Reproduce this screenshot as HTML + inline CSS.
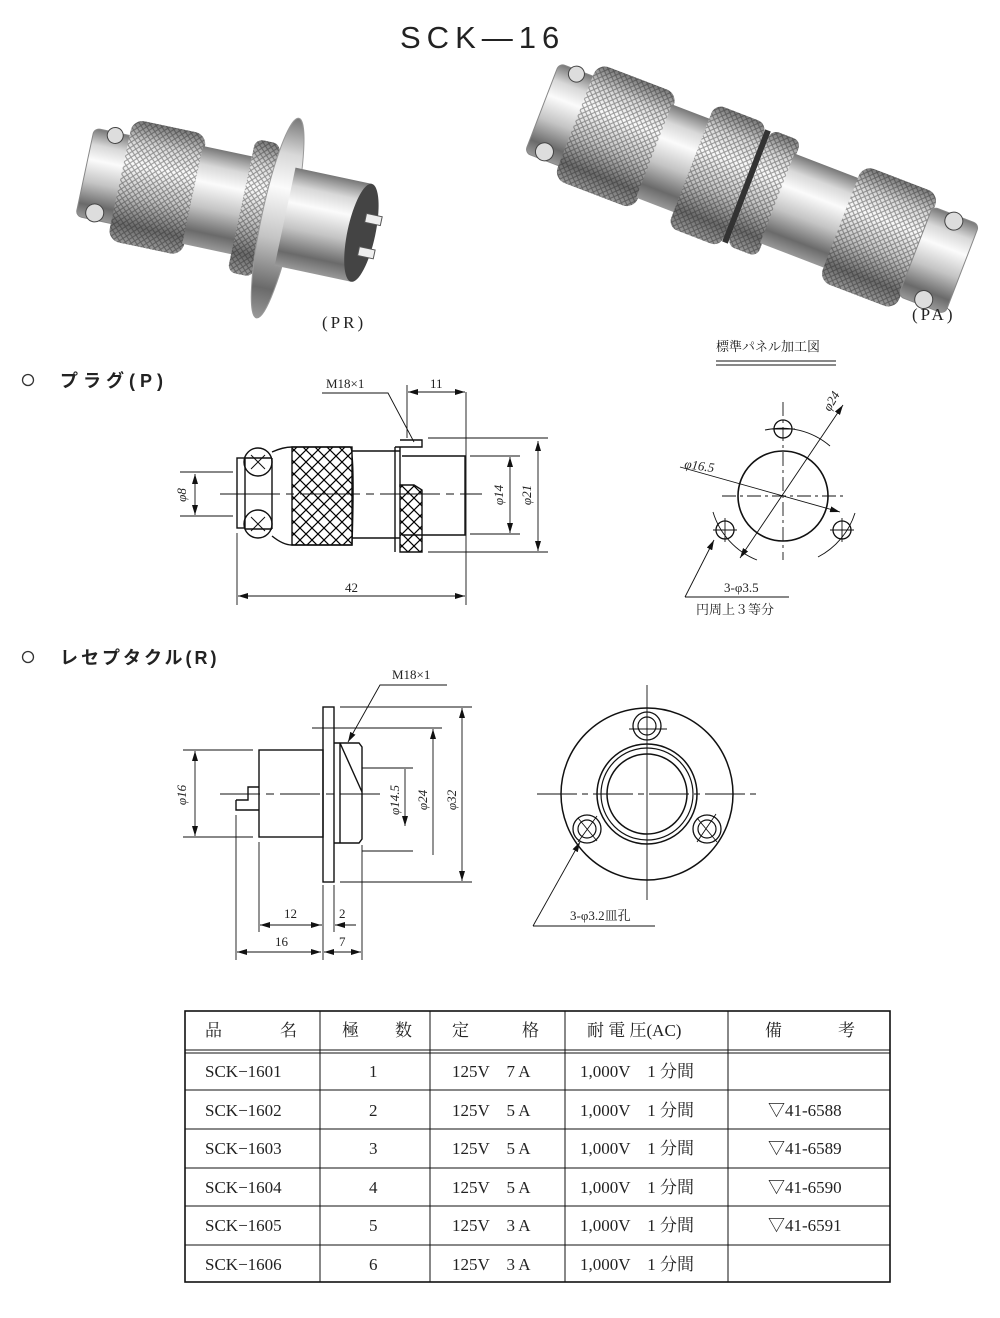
<!DOCTYPE html>
<html><head><meta charset="utf-8"><style>
html,body{margin:0;padding:0;background:#fff}
svg{display:block}
text{font-family:"Liberation Serif","Noto Serif CJK SC","Noto Sans CJK JP",serif;fill:#222}
.s{font-family:"Liberation Sans","Noto Sans CJK JP",sans-serif}
</style></head><body>
<svg width="1000" height="1318" viewBox="0 0 1000 1318" xmlns="http://www.w3.org/2000/svg">
<defs>
<linearGradient id="met" x1="0" y1="0" x2="0" y2="1">
<stop offset="0" stop-color="#777"/><stop offset="0.18" stop-color="#d8d8d8"/><stop offset="0.35" stop-color="#fbfbfb"/><stop offset="0.6" stop-color="#c4c4c4"/><stop offset="0.85" stop-color="#6a6a6a"/><stop offset="1" stop-color="#999"/>
</linearGradient>
<pattern id="kn" width="6" height="6" patternUnits="userSpaceOnUse">
<path d="M0 0L6 6M6 0L0 6" stroke="#222" stroke-width="1" opacity="0.45"/>
</pattern>
<pattern id="hx" width="12" height="12" patternUnits="userSpaceOnUse">
<path d="M0 0L12 12M12 0L0 12" stroke="#000" stroke-width="1.2"/>
</pattern>
<marker id="a" viewBox="0 0 10 6" refX="10" refY="3" markerWidth="10" markerHeight="6" orient="auto-start-reverse" markerUnits="userSpaceOnUse"><path d="M0 0L10 3L0 6z" fill="#111"/></marker>
</defs>

<text x="400" y="48" class="s" font-size="31" letter-spacing="6">SCK—16</text>

<!-- PR photo -->
<g transform="translate(85,172) rotate(12)">
<rect x="0" y="-45" width="42" height="90" rx="6" fill="url(#met)" stroke="#888"/>
<circle cx="22" cy="-42" r="8" fill="#ddd" stroke="#444"/><circle cx="18" cy="38" r="9" fill="#ddd" stroke="#444"/>
<rect x="36" y="-62" width="76" height="124" rx="12" fill="url(#met)"/><rect x="36" y="-62" width="76" height="124" rx="12" fill="url(#kn)"/>
<rect x="110" y="-50" width="52" height="100" fill="url(#met)"/>
<rect x="160" y="-68" width="26" height="136" rx="8" fill="url(#met)"/><rect x="160" y="-68" width="26" height="136" rx="8" fill="url(#kn)"/>
<ellipse cx="198" cy="5" rx="16" ry="102" fill="url(#met)" stroke="#999"/>
<rect x="205" y="-48" width="78" height="100" fill="url(#met)"/>
<ellipse cx="283" cy="2" rx="14" ry="50" fill="#444"/>
<rect x="284" y="-18" width="16" height="9" fill="#eee" stroke="#555"/><rect x="284" y="16" width="16" height="9" fill="#eee" stroke="#555"/>
</g>
<text x="322" y="328" font-size="17" letter-spacing="3">(PR)</text>

<!-- PA photo -->
<g transform="translate(542,108) rotate(21)">
<rect x="0" y="-48" width="42" height="96" rx="6" fill="url(#met)" stroke="#888"/>
<circle cx="20" cy="-44" r="8" fill="#ddd" stroke="#444"/><circle cx="18" cy="40" r="9" fill="#ddd" stroke="#444"/>
<rect x="36" y="-62" width="86" height="124" rx="12" fill="url(#met)"/><rect x="36" y="-62" width="86" height="124" rx="12" fill="url(#kn)"/>
<rect x="120" y="-50" width="42" height="100" fill="url(#met)"/>
<rect x="160" y="-66" width="56" height="132" rx="10" fill="url(#met)"/><rect x="160" y="-66" width="56" height="132" rx="10" fill="url(#kn)"/>
<rect x="216" y="-60" width="6" height="120" fill="#333"/>
<rect x="222" y="-62" width="32" height="124" rx="8" fill="url(#met)"/><rect x="222" y="-62" width="32" height="124" rx="8" fill="url(#kn)"/>
<rect x="252" y="-48" width="70" height="96" fill="url(#met)"/>
<rect x="320" y="-62" width="82" height="124" rx="12" fill="url(#met)"/><rect x="320" y="-62" width="82" height="124" rx="12" fill="url(#kn)"/>
<rect x="400" y="-48" width="50" height="96" rx="6" fill="url(#met)" stroke="#888"/>
<circle cx="425" cy="-42" r="9" fill="#ddd" stroke="#444"/><circle cx="425" cy="42" r="9" fill="#ddd" stroke="#444"/>
</g>
<text x="912" y="320" font-size="17" letter-spacing="3">(PA)</text>

<!-- section headings -->
<circle cx="28" cy="380" r="5.5" fill="none" stroke="#333" stroke-width="1.3"/>
<text x="60" y="387" class="s" font-size="18" font-weight="bold" letter-spacing="5">プラグ(P)</text>
<circle cx="28" cy="657" r="5.5" fill="none" stroke="#333" stroke-width="1.3"/>
<text x="60" y="664" class="s" font-size="18" font-weight="bold" letter-spacing="3">レセプタクル(R)</text>

<!-- Plug drawing -->
<g stroke="#111" stroke-width="1.4" fill="none">
<rect x="237" y="458" width="8" height="70"/>
<circle cx="258" cy="462" r="14"/><circle cx="258" cy="524" r="14"/>
<path d="M251 455L265 469M265 455L251 469M251 517L265 531M265 517L251 531" stroke-width="1"/>
<path d="M245 458H272M245 529H272M272 458V529"/>
<path d="M272 452 Q283 447 292 447 L350 447 Q355 449 352 545 L292 545 Q283 545 272 536"/>
<rect x="292" y="447" width="60" height="98" fill="url(#hx)"/>
<path d="M352 451H400M352 538H400"/>
<path d="M395 447V552M400 440H422V447H400M395 447H422"/>
<path d="M400 447V487"/>
<path d="M400 485L414 485L422 490V552H400Z" fill="url(#hx)"/>
<path d="M402 456H465V535H402"/>
</g>
<g stroke="#111" stroke-width="0.9" fill="none">
<path d="M220 494H482" stroke-dasharray="60 6 8 6"/>
<path d="M180 472H233M180 516H233M237 533V605M466 392V605M407 385V438M428 438H548M428 552H548M470 456H520M470 534H520"/>
<path d="M195 474V515" marker-start="url(#a)" marker-end="url(#a)"/>
<path d="M238 596H465" marker-start="url(#a)" marker-end="url(#a)"/>
<path d="M408 392H465" marker-start="url(#a)" marker-end="url(#a)"/>
<path d="M510 457V533" marker-start="url(#a)" marker-end="url(#a)"/>
<path d="M538 441V551" marker-start="url(#a)" marker-end="url(#a)"/>
<path d="M322 393H388L414 442"/>
</g>
<text x="326" y="388" font-size="13">M18×1</text>
<text x="430" y="388" font-size="13">11</text>
<text x="345" y="592" font-size="13">42</text>
<text transform="translate(186,495) rotate(-90)" text-anchor="middle" font-size="13" font-style="italic">φ8</text>
<text transform="translate(503,495) rotate(-90)" text-anchor="middle" font-size="13" font-style="italic">φ14</text>
<text transform="translate(531,495) rotate(-90)" text-anchor="middle" font-size="13" font-style="italic">φ21</text>

<!-- panel cutout -->
<text x="716" y="351" font-size="13">標準パネル加工図</text>
<path d="M716 361H836M716 365H836" stroke="#111" stroke-width="1"/>
<g stroke="#111" fill="none">
<circle cx="783" cy="496" r="45" stroke-width="1.6"/>
<circle cx="783" cy="429" r="9" stroke-width="1.3"/><circle cx="725" cy="530" r="9" stroke-width="1.3"/><circle cx="842" cy="530" r="9" stroke-width="1.3"/>
<g stroke-width="0.9">
<path d="M783 402V560" stroke-dasharray="14 4 3 4"/><path d="M722 496H843" stroke-dasharray="14 4 3 4"/>
<path d="M771 429H795M725 518V542M713 530H737M842 518V542M830 530H854"/>
<path d="M765 430 A75 75 0 0 1 830 446"/><path d="M713 512 A75 75 0 0 0 757 560"/><path d="M818 557 A75 75 0 0 0 855 513"/>
<path d="M680 467L840 512" marker-end="url(#a)"/>
<path d="M740 558L843 405" marker-start="url(#a)" marker-end="url(#a)"/>
<path d="M685 597L714 540" marker-end="url(#a)"/><path d="M685 597H789"/>
</g></g>
<text x="684" y="468" font-size="13" font-style="italic" transform="rotate(8 684 468)">φ16.5</text>
<text transform="translate(830,412) rotate(-60)" font-size="13" font-style="italic">φ24</text>
<text x="724" y="592" font-size="13">3-φ3.5</text>
<text x="696" y="614" font-size="13">円周上３等分</text>

<!-- receptacle -->
<g stroke="#111" stroke-width="1.4" fill="none">
<rect x="323" y="707" width="11" height="175"/>
<rect x="259" y="750" width="64" height="87"/>
<path d="M236 800H248V787H259M236 800V810H259"/>
<path d="M334 743H359L362 747V839L359 843H334M340 743V843M340 743L362 792"/>
</g>
<g stroke="#111" stroke-width="0.9" fill="none">
<path d="M220 794H380" stroke-dasharray="40 6 8 6"/>
<path d="M183 750H253M183 837H253M340 707H472M312 728H442M362 768H413M362 851H413M340 882H472"/>
<path d="M236 815V960M259 842V932M323 885V960M334 885V932M362 845V960"/>
<path d="M195 751V836" marker-start="url(#a)" marker-end="url(#a)"/>
<path d="M405 769V826" marker-end="url(#a)"/>
<path d="M433 729V855" marker-start="url(#a)"/>
<path d="M462 708V881" marker-start="url(#a)" marker-end="url(#a)"/>
<path d="M260 925H321" marker-start="url(#a)" marker-end="url(#a)"/>
<path d="M335 925H356" marker-start="url(#a)"/><path d="M300 925H322" />
<path d="M237 952H321" marker-start="url(#a)" marker-end="url(#a)"/>
<path d="M324 952H361" marker-start="url(#a)" marker-end="url(#a)"/>
<path d="M447 685H380L348 742" marker-end="url(#a)"/>
</g>
<text x="392" y="679" font-size="13">M18×1</text>
<text x="284" y="918" font-size="13">12</text>
<text x="339" y="918" font-size="13">2</text>
<text x="275" y="946" font-size="13">16</text>
<text x="339" y="946" font-size="13">7</text>
<text transform="translate(186,795) rotate(-90)" text-anchor="middle" font-size="13" font-style="italic">φ16</text>
<text transform="translate(399,800) rotate(-90)" text-anchor="middle" font-size="13" font-style="italic">φ14.5</text>
<text transform="translate(427,800) rotate(-90)" text-anchor="middle" font-size="13" font-style="italic">φ24</text>
<text transform="translate(456,800) rotate(-90)" text-anchor="middle" font-size="13" font-style="italic">φ32</text>

<g stroke="#111" fill="none">
<circle cx="647" cy="794" r="86" stroke-width="1.5"/>
<circle cx="647" cy="794" r="50" stroke-width="1.5"/><circle cx="647" cy="794" r="46" stroke-width="1.2"/><circle cx="647" cy="794" r="40" stroke-width="1.5"/>
<circle cx="647" cy="726" r="14" stroke-width="1.3"/><circle cx="647" cy="726" r="9" stroke-width="1.2"/>
<circle cx="587" cy="829" r="14" stroke-width="1.3"/><circle cx="587" cy="829" r="9" stroke-width="1.2"/>
<circle cx="707" cy="829" r="14" stroke-width="1.3"/><circle cx="707" cy="829" r="9" stroke-width="1.2"/>
<g stroke-width="0.9">
<path d="M537 794H760" stroke-dasharray="40 5 6 5"/><path d="M647 685V900"/>
<path d="M629 729H667M578 818L597 841M578 842L597 816M697 818L717 842M716 814L697 842"/>
<path d="M533 926L580 842" marker-end="url(#a)"/><path d="M533 926H655"/>
</g></g>
<text x="570" y="920" font-size="13">3-φ3.2皿孔</text>

<!-- table -->
<g stroke="#111" fill="none">
<rect x="185" y="1011" width="705" height="271" stroke-width="1.6"/>
<path d="M185 1050H890M185 1053H890" stroke-width="1"/>
<path d="M185 1090H890M185 1129H890M185 1168H890M185 1206H890M185 1245H890" stroke-width="1"/>
<path d="M320 1011V1282M430 1011V1282M565 1011V1282M728 1011V1282" stroke-width="1"/>
</g>
<g font-size="17">
<text x="205" y="1036">品</text><text x="280" y="1036">名</text>
<text x="342" y="1036">極</text><text x="395" y="1036">数</text>
<text x="452" y="1036">定</text><text x="522" y="1036">格</text>
<text x="587" y="1036">耐 電 圧(AC)</text>
<text x="765" y="1036">備</text><text x="838" y="1036">考</text>
</g>
<g font-size="17">
<text x="205" y="1077">SCK−1601</text><text x="369" y="1077">1</text><text x="452" y="1077">125V　7 A</text><text x="580" y="1077">1,000V　1 分間</text>
<text x="205" y="1116">SCK−1602</text><text x="369" y="1116">2</text><text x="452" y="1116">125V　5 A</text><text x="580" y="1116">1,000V　1 分間</text><text x="768" y="1116">▽41-6588</text>
<text x="205" y="1154">SCK−1603</text><text x="369" y="1154">3</text><text x="452" y="1154">125V　5 A</text><text x="580" y="1154">1,000V　1 分間</text><text x="768" y="1154">▽41-6589</text>
<text x="205" y="1193">SCK−1604</text><text x="369" y="1193">4</text><text x="452" y="1193">125V　5 A</text><text x="580" y="1193">1,000V　1 分間</text><text x="768" y="1193">▽41-6590</text>
<text x="205" y="1231">SCK−1605</text><text x="369" y="1231">5</text><text x="452" y="1231">125V　3 A</text><text x="580" y="1231">1,000V　1 分間</text><text x="768" y="1231">▽41-6591</text>
<text x="205" y="1270">SCK−1606</text><text x="369" y="1270">6</text><text x="452" y="1270">125V　3 A</text><text x="580" y="1270">1,000V　1 分間</text>
</g>
</svg>
</body></html>
